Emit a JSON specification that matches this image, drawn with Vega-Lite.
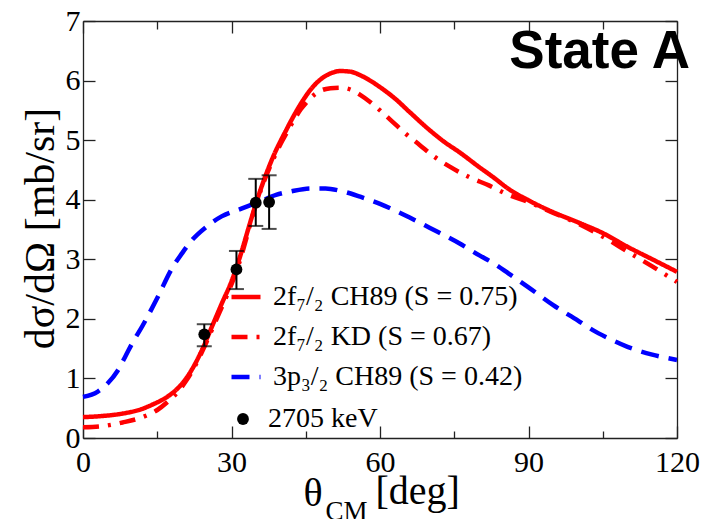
{
  "$schema": "https://vega.github.io/schema/vega-lite/v6.json",
  "width": 594,
  "height": 417,
  "autosize": "none",
  "padding": {"left": 83, "top": 21, "right": 29, "bottom": 81},
  "background": "white",
  "title": {"text": "State A", "font": "Liberation Sans", "fontSize": 53, "fontWeight": "bold", "color": "black", "anchor": "end", "frame": "group", "offset": 0, "dx": 13, "dy": 115, "baseline": "alphabetic"},
  "config": {
    "font": "Liberation Serif",
    "view": {"stroke": null},
    "axis": {"grid": false, "domainColor": "#222", "domainWidth": 1.3, "tickColor": "#222", "tickWidth": 1.3, "labelFont": "Liberation Serif", "labelFontSize": 30, "labelColor": "black", "titleFont": "Liberation Serif", "titleFontWeight": "normal", "titleColor": "black", "labelFlush": false, "labelOverlap": false, "labelBound": false},
    "legend": {"labelFont": "Liberation Serif", "labelFontSize": 28, "labelColor": "black", "labelLimit": 0, "padding": 0, "orient": "none"}
  },
  "datasets": {
    "curves": [
      {"s": "2f₇/₂ CH89 (S = 0.75)", "x": 0, "y": 0.35}, {"s": "2f₇/₂ CH89 (S = 0.75)", "x": 4, "y": 0.37}, {"s": "2f₇/₂ CH89 (S = 0.75)", "x": 8, "y": 0.41}, {"s": "2f₇/₂ CH89 (S = 0.75)", "x": 12, "y": 0.49}, {"s": "2f₇/₂ CH89 (S = 0.75)", "x": 14, "y": 0.56}, {"s": "2f₇/₂ CH89 (S = 0.75)", "x": 16, "y": 0.64}, {"s": "2f₇/₂ CH89 (S = 0.75)", "x": 18, "y": 0.75}, {"s": "2f₇/₂ CH89 (S = 0.75)", "x": 20, "y": 0.91}, {"s": "2f₇/₂ CH89 (S = 0.75)", "x": 22, "y": 1.15}, {"s": "2f₇/₂ CH89 (S = 0.75)", "x": 24, "y": 1.47}, {"s": "2f₇/₂ CH89 (S = 0.75)", "x": 26, "y": 1.86}, {"s": "2f₇/₂ CH89 (S = 0.75)", "x": 28, "y": 2.25}, {"s": "2f₇/₂ CH89 (S = 0.75)", "x": 30, "y": 2.63}, {"s": "2f₇/₂ CH89 (S = 0.75)", "x": 31, "y": 2.86}, {"s": "2f₇/₂ CH89 (S = 0.75)", "x": 32, "y": 3.12}, {"s": "2f₇/₂ CH89 (S = 0.75)", "x": 33, "y": 3.4}, {"s": "2f₇/₂ CH89 (S = 0.75)", "x": 34, "y": 3.68}, {"s": "2f₇/₂ CH89 (S = 0.75)", "x": 35, "y": 3.95}, {"s": "2f₇/₂ CH89 (S = 0.75)", "x": 36, "y": 4.2}, {"s": "2f₇/₂ CH89 (S = 0.75)", "x": 37, "y": 4.43}, {"s": "2f₇/₂ CH89 (S = 0.75)", "x": 38, "y": 4.64}, {"s": "2f₇/₂ CH89 (S = 0.75)", "x": 39, "y": 4.83}, {"s": "2f₇/₂ CH89 (S = 0.75)", "x": 40, "y": 5.0}, {"s": "2f₇/₂ CH89 (S = 0.75)", "x": 41, "y": 5.16}, {"s": "2f₇/₂ CH89 (S = 0.75)", "x": 42, "y": 5.32}, {"s": "2f₇/₂ CH89 (S = 0.75)", "x": 43, "y": 5.47}, {"s": "2f₇/₂ CH89 (S = 0.75)", "x": 44, "y": 5.61}, {"s": "2f₇/₂ CH89 (S = 0.75)", "x": 46, "y": 5.85}, {"s": "2f₇/₂ CH89 (S = 0.75)", "x": 48, "y": 6.02}, {"s": "2f₇/₂ CH89 (S = 0.75)", "x": 50, "y": 6.12}, {"s": "2f₇/₂ CH89 (S = 0.75)", "x": 52, "y": 6.16}, {"s": "2f₇/₂ CH89 (S = 0.75)", "x": 54, "y": 6.15}, {"s": "2f₇/₂ CH89 (S = 0.75)", "x": 56, "y": 6.09}, {"s": "2f₇/₂ CH89 (S = 0.75)", "x": 58, "y": 6.0}, {"s": "2f₇/₂ CH89 (S = 0.75)", "x": 60, "y": 5.89}, {"s": "2f₇/₂ CH89 (S = 0.75)", "x": 63, "y": 5.7}, {"s": "2f₇/₂ CH89 (S = 0.75)", "x": 66, "y": 5.47}, {"s": "2f₇/₂ CH89 (S = 0.75)", "x": 70, "y": 5.17}, {"s": "2f₇/₂ CH89 (S = 0.75)", "x": 73, "y": 4.97}, {"s": "2f₇/₂ CH89 (S = 0.75)", "x": 76, "y": 4.8}, {"s": "2f₇/₂ CH89 (S = 0.75)", "x": 80, "y": 4.55}, {"s": "2f₇/₂ CH89 (S = 0.75)", "x": 83, "y": 4.37}, {"s": "2f₇/₂ CH89 (S = 0.75)", "x": 86, "y": 4.18}, {"s": "2f₇/₂ CH89 (S = 0.75)", "x": 90, "y": 3.99}, {"s": "2f₇/₂ CH89 (S = 0.75)", "x": 95, "y": 3.79}, {"s": "2f₇/₂ CH89 (S = 0.75)", "x": 100, "y": 3.62}, {"s": "2f₇/₂ CH89 (S = 0.75)", "x": 105, "y": 3.44}, {"s": "2f₇/₂ CH89 (S = 0.75)", "x": 110, "y": 3.21}, {"s": "2f₇/₂ CH89 (S = 0.75)", "x": 115, "y": 3.0}, {"s": "2f₇/₂ CH89 (S = 0.75)", "x": 120, "y": 2.79},
      {"s": "2f₇/₂ KD (S = 0.67)", "x": 0, "y": 0.18}, {"s": "2f₇/₂ KD (S = 0.67)", "x": 4, "y": 0.2}, {"s": "2f₇/₂ KD (S = 0.67)", "x": 8, "y": 0.26}, {"s": "2f₇/₂ KD (S = 0.67)", "x": 12, "y": 0.35}, {"s": "2f₇/₂ KD (S = 0.67)", "x": 15, "y": 0.47}, {"s": "2f₇/₂ KD (S = 0.67)", "x": 17, "y": 0.6}, {"s": "2f₇/₂ KD (S = 0.67)", "x": 19, "y": 0.76}, {"s": "2f₇/₂ KD (S = 0.67)", "x": 21, "y": 0.98}, {"s": "2f₇/₂ KD (S = 0.67)", "x": 23, "y": 1.27}, {"s": "2f₇/₂ KD (S = 0.67)", "x": 25, "y": 1.62}, {"s": "2f₇/₂ KD (S = 0.67)", "x": 27, "y": 2.0}, {"s": "2f₇/₂ KD (S = 0.67)", "x": 29, "y": 2.38}, {"s": "2f₇/₂ KD (S = 0.67)", "x": 31, "y": 2.8}, {"s": "2f₇/₂ KD (S = 0.67)", "x": 33, "y": 3.35}, {"s": "2f₇/₂ KD (S = 0.67)", "x": 34, "y": 3.66}, {"s": "2f₇/₂ KD (S = 0.67)", "x": 35, "y": 3.93}, {"s": "2f₇/₂ KD (S = 0.67)", "x": 36, "y": 4.18}, {"s": "2f₇/₂ KD (S = 0.67)", "x": 37, "y": 4.4}, {"s": "2f₇/₂ KD (S = 0.67)", "x": 38, "y": 4.6}, {"s": "2f₇/₂ KD (S = 0.67)", "x": 39, "y": 4.78}, {"s": "2f₇/₂ KD (S = 0.67)", "x": 40, "y": 4.95}, {"s": "2f₇/₂ KD (S = 0.67)", "x": 41, "y": 5.1}, {"s": "2f₇/₂ KD (S = 0.67)", "x": 42, "y": 5.25}, {"s": "2f₇/₂ KD (S = 0.67)", "x": 43, "y": 5.39}, {"s": "2f₇/₂ KD (S = 0.67)", "x": 44, "y": 5.52}, {"s": "2f₇/₂ KD (S = 0.67)", "x": 45, "y": 5.62}, {"s": "2f₇/₂ KD (S = 0.67)", "x": 46, "y": 5.71}, {"s": "2f₇/₂ KD (S = 0.67)", "x": 47, "y": 5.78}, {"s": "2f₇/₂ KD (S = 0.67)", "x": 48, "y": 5.83}, {"s": "2f₇/₂ KD (S = 0.67)", "x": 50, "y": 5.87}, {"s": "2f₇/₂ KD (S = 0.67)", "x": 52, "y": 5.88}, {"s": "2f₇/₂ KD (S = 0.67)", "x": 54, "y": 5.85}, {"s": "2f₇/₂ KD (S = 0.67)", "x": 56, "y": 5.76}, {"s": "2f₇/₂ KD (S = 0.67)", "x": 58, "y": 5.64}, {"s": "2f₇/₂ KD (S = 0.67)", "x": 60, "y": 5.5}, {"s": "2f₇/₂ KD (S = 0.67)", "x": 62, "y": 5.35}, {"s": "2f₇/₂ KD (S = 0.67)", "x": 65, "y": 5.12}, {"s": "2f₇/₂ KD (S = 0.67)", "x": 68, "y": 4.92}, {"s": "2f₇/₂ KD (S = 0.67)", "x": 71, "y": 4.72}, {"s": "2f₇/₂ KD (S = 0.67)", "x": 74, "y": 4.56}, {"s": "2f₇/₂ KD (S = 0.67)", "x": 78, "y": 4.38}, {"s": "2f₇/₂ KD (S = 0.67)", "x": 82, "y": 4.24}, {"s": "2f₇/₂ KD (S = 0.67)", "x": 86, "y": 4.08}, {"s": "2f₇/₂ KD (S = 0.67)", "x": 90, "y": 3.96}, {"s": "2f₇/₂ KD (S = 0.67)", "x": 95, "y": 3.78}, {"s": "2f₇/₂ KD (S = 0.67)", "x": 100, "y": 3.6}, {"s": "2f₇/₂ KD (S = 0.67)", "x": 105, "y": 3.38}, {"s": "2f₇/₂ KD (S = 0.67)", "x": 110, "y": 3.13}, {"s": "2f₇/₂ KD (S = 0.67)", "x": 115, "y": 2.88}, {"s": "2f₇/₂ KD (S = 0.67)", "x": 120, "y": 2.62},
      {"s": "3p₃/₂ CH89 (S = 0.42)", "x": 0, "y": 0.69}, {"s": "3p₃/₂ CH89 (S = 0.42)", "x": 3, "y": 0.78}, {"s": "3p₃/₂ CH89 (S = 0.42)", "x": 5, "y": 0.92}, {"s": "3p₃/₂ CH89 (S = 0.42)", "x": 7, "y": 1.13}, {"s": "3p₃/₂ CH89 (S = 0.42)", "x": 8.5, "y": 1.36}, {"s": "3p₃/₂ CH89 (S = 0.42)", "x": 10, "y": 1.6}, {"s": "3p₃/₂ CH89 (S = 0.42)", "x": 12, "y": 1.88}, {"s": "3p₃/₂ CH89 (S = 0.42)", "x": 15, "y": 2.35}, {"s": "3p₃/₂ CH89 (S = 0.42)", "x": 18, "y": 2.85}, {"s": "3p₃/₂ CH89 (S = 0.42)", "x": 20, "y": 3.1}, {"s": "3p₃/₂ CH89 (S = 0.42)", "x": 22, "y": 3.32}, {"s": "3p₃/₂ CH89 (S = 0.42)", "x": 25, "y": 3.55}, {"s": "3p₃/₂ CH89 (S = 0.42)", "x": 28, "y": 3.72}, {"s": "3p₃/₂ CH89 (S = 0.42)", "x": 32, "y": 3.85}, {"s": "3p₃/₂ CH89 (S = 0.42)", "x": 36, "y": 3.98}, {"s": "3p₃/₂ CH89 (S = 0.42)", "x": 39, "y": 4.08}, {"s": "3p₃/₂ CH89 (S = 0.42)", "x": 42, "y": 4.14}, {"s": "3p₃/₂ CH89 (S = 0.42)", "x": 46, "y": 4.19}, {"s": "3p₃/₂ CH89 (S = 0.42)", "x": 49, "y": 4.19}, {"s": "3p₃/₂ CH89 (S = 0.42)", "x": 52, "y": 4.15}, {"s": "3p₃/₂ CH89 (S = 0.42)", "x": 56, "y": 4.05}, {"s": "3p₃/₂ CH89 (S = 0.42)", "x": 60, "y": 3.93}, {"s": "3p₃/₂ CH89 (S = 0.42)", "x": 63, "y": 3.82}, {"s": "3p₃/₂ CH89 (S = 0.42)", "x": 66, "y": 3.7}, {"s": "3p₃/₂ CH89 (S = 0.42)", "x": 70, "y": 3.53}, {"s": "3p₃/₂ CH89 (S = 0.42)", "x": 76, "y": 3.27}, {"s": "3p₃/₂ CH89 (S = 0.42)", "x": 80, "y": 3.07}, {"s": "3p₃/₂ CH89 (S = 0.42)", "x": 83, "y": 2.93}, {"s": "3p₃/₂ CH89 (S = 0.42)", "x": 86, "y": 2.76}, {"s": "3p₃/₂ CH89 (S = 0.42)", "x": 90, "y": 2.53}, {"s": "3p₃/₂ CH89 (S = 0.42)", "x": 95, "y": 2.23}, {"s": "3p₃/₂ CH89 (S = 0.42)", "x": 100, "y": 1.97}, {"s": "3p₃/₂ CH89 (S = 0.42)", "x": 103, "y": 1.81}, {"s": "3p₃/₂ CH89 (S = 0.42)", "x": 106, "y": 1.68}, {"s": "3p₃/₂ CH89 (S = 0.42)", "x": 110, "y": 1.53}, {"s": "3p₃/₂ CH89 (S = 0.42)", "x": 115, "y": 1.4}, {"s": "3p₃/₂ CH89 (S = 0.42)", "x": 120, "y": 1.31}
    ],
    "points": [
      {"label": "2705 keV", "x": 24.5, "y": 1.74, "lo": 1.54, "hi": 1.91},
      {"label": "2705 keV", "x": 31.0, "y": 2.83, "lo": 2.5, "hi": 3.14},
      {"label": "2705 keV", "x": 34.9, "y": 3.95, "lo": 3.56, "hi": 4.35},
      {"label": "2705 keV", "x": 37.6, "y": 3.96, "lo": 3.51, "hi": 4.41}
    ]
  },
  "layer": [
    {
      "data": {"name": "curves"},
      "mark": {"type": "line", "strokeWidth": 4.5, "interpolate": "monotone"},
      "encoding": {
        "x": {"field": "x", "type": "quantitative", "scale": {"domain": [0, 120], "nice": false, "zero": false},
          "axis": {"orient": "bottom", "values": [0, 30, 60, 90, 120], "tickSize": -12, "labelPadding": 21, "title": "θ", "titleFontSize": 40, "titleX": 220, "titleY": 67, "titleAlign": "left", "titleBaseline": "alphabetic", "titleAnchor": null}},
        "y": {"field": "y", "type": "quantitative", "scale": {"domain": [0, 7], "nice": false, "zero": false},
          "axis": {"orient": "left", "values": [0, 1, 2, 3, 4, 5, 6, 7], "tickSize": -12, "labelPadding": 15, "title": "dσ/dΩ [mb/sr]", "titleFontSize": 42, "titleX": -30, "titleY": 207, "titleAngle": -90, "titleAlign": "center", "titleBaseline": "alphabetic"}},
        "color": {"field": "s", "type": "nominal", "sort": null,
          "scale": {"domain": ["2f₇/₂ CH89 (S = 0.75)", "2f₇/₂ KD (S = 0.67)", "3p₃/₂ CH89 (S = 0.42)"], "range": ["#ff0000", "#ff0000", "#0000ff"]},
          "legend": {"title": null, "orient": "none", "legendX": 146, "legendY": 259, "symbolType": "stroke", "symbolSize": 841, "symbolStrokeWidth": 4.5, "rowPadding": 9, "labelOffset": 10, "labelFont": "Liberation Serif", "labelFontSize": 28, "labelLimit": 0}},
        "strokeDash": {"field": "s", "type": "nominal", "sort": null,
          "scale": {"domain": ["2f₇/₂ CH89 (S = 0.75)", "2f₇/₂ KD (S = 0.67)", "3p₃/₂ CH89 (S = 0.42)"], "range": [[1, 0], [16, 9, 3, 9], [18, 10]]},
          "legend": {"title": null, "orient": "none", "legendX": 146, "legendY": 259, "symbolType": "stroke", "symbolSize": 841, "symbolStrokeWidth": 4.5, "rowPadding": 9, "labelOffset": 10, "labelFont": "Liberation Serif", "labelFontSize": 28, "labelLimit": 0}}
      }
    },
    {
      "data": {"name": "points"},
      "mark": {"type": "rule", "color": "black", "strokeWidth": 2},
      "encoding": {
        "x": {"field": "x", "type": "quantitative",
          "axis": {"orient": "top", "values": [0, 15, 30, 45, 60, 75, 90, 105, 120], "tickSize": {"condition": {"test": "datum.value % 30 === 0", "value": -12}, "value": -8}, "labels": false, "title": "[deg]", "titleFontSize": 40, "titleX": 292, "titleY": 482, "titleAlign": "left", "titleBaseline": "alphabetic"}},
        "y": {"field": "lo", "type": "quantitative",
          "axis": {"orient": "right", "values": [0, 1, 2, 3, 4, 5, 6, 7], "tickSize": -12, "labels": false, "title": null}},
        "y2": {"field": "hi"}
      }
    },
    {
      "data": {"name": "points"},
      "transform": [{"fold": ["lo", "hi"], "as": ["end", "yv"]}],
      "mark": {"type": "tick", "orient": "horizontal", "color": "black", "size": 15, "thickness": 2},
      "encoding": {
        "x": {"field": "x", "type": "quantitative",
          "axis": {"orient": "bottom", "values": [15, 45, 75, 105], "tickSize": -7, "labels": false, "domain": false, "title": "CM", "titleFontSize": 27, "titleX": 242, "titleY": 81, "titleAlign": "left", "titleBaseline": "alphabetic"}},
        "y": {"field": "yv", "type": "quantitative", "axis": null}
      }
    },
    {
      "data": {"name": "points"},
      "mark": {"type": "point", "filled": true, "color": "black", "size": 140, "opacity": 1},
      "encoding": {
        "x": {"field": "x", "type": "quantitative", "axis": null},
        "y": {"field": "y", "type": "quantitative", "axis": null},
        "shape": {"field": "label", "type": "nominal", "scale": {"range": ["circle"]},
          "legend": {"title": null, "orient": "none", "legendX": 146, "legendY": 384, "symbolFillColor": "black", "symbolStrokeColor": "black", "symbolSize": 140, "labelOffset": 11, "labelFont": "Liberation Serif", "labelFontSize": 28, "labelLimit": 0}}
      }
    }
  ],
  "resolve": {"axis": {"x": "independent", "y": "independent"}}
}
